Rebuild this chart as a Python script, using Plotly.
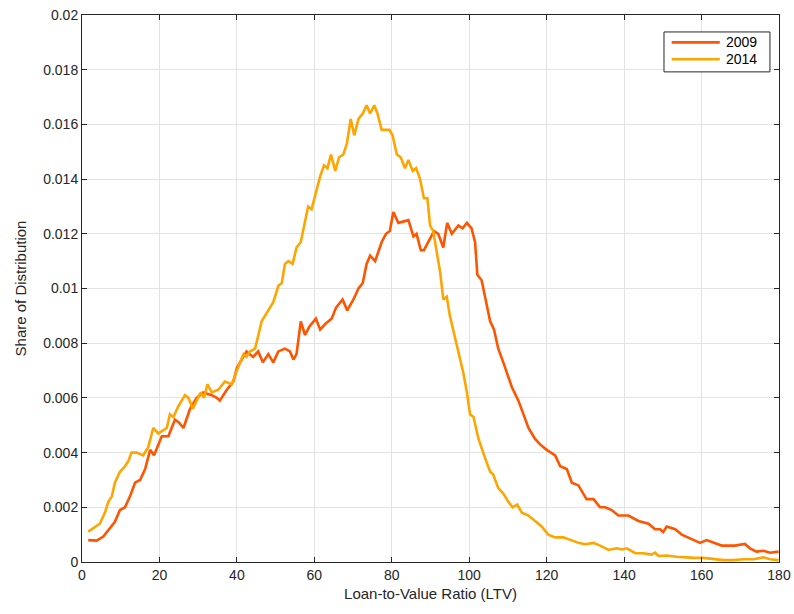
import plotly.graph_objects as go

ltv_2009 = [1.6, 3.8, 5.5, 7.2, 8.5, 9.8, 11.1, 12.4, 13.7, 15.0, 16.3, 17.6, 18.6, 20.6, 22.3, 24.0, 25.0, 26.2,
            27.9, 29.6, 31.3, 33.5, 34.8, 35.6, 37.4, 39.1, 40.0, 42.5, 44.2, 45.5, 46.7, 48.1, 49.4, 50.7, 52.4,
            53.7, 54.6, 55.4, 56.5, 57.6, 58.7, 60.4, 61.5, 62.8, 64.5, 65.6, 67.3, 68.5, 70.1, 71.4, 72.5, 73.5,
            74.4, 75.7, 77.4, 78.5, 79.5, 80.4, 81.7, 84.3, 85.6, 86.4, 87.5, 88.3, 89.9, 90.9, 92.0, 93.3, 94.3,
            95.5, 97.2, 98.3, 99.4, 100.6, 101.5, 102.1, 103.2, 104.3, 105.4, 106.4, 107.5, 108.8, 111.0, 112.7,
            114.0, 115.3, 117.0, 118.3, 120.0, 121.3, 122.2, 123.5, 125.2, 126.5, 128.2, 130.3, 132.1, 133.8,
            135.1, 136.8, 138.5, 141.1, 143.7, 146.3, 148.0, 149.3, 150.1, 151.0, 153.2, 154.9, 156.6, 159.6,
            161.3, 163.5, 165.2, 168.6, 171.2, 172.5, 174.2, 176.0, 177.7, 179.9]
share_2009 = [0.00080, 0.00078, 0.00093, 0.00123, 0.00147, 0.0019, 0.0020, 0.0024, 0.0029, 0.0030, 0.0034, 0.0041,
              0.0039, 0.0046, 0.0046, 0.0052, 0.0051, 0.0049, 0.0056, 0.0060, 0.0062, 0.0061, 0.0060, 0.0059,
              0.0063, 0.0066, 0.0071, 0.0077, 0.0075, 0.0077, 0.0073, 0.0076, 0.0073, 0.0077, 0.0078, 0.0077,
              0.0074, 0.0076, 0.0088, 0.0083, 0.0086, 0.0089, 0.0085, 0.0087, 0.0089, 0.0093, 0.0096, 0.0092,
              0.0096, 0.0100, 0.0102, 0.0109, 0.0112, 0.0110, 0.0117, 0.0120, 0.0121, 0.0128, 0.0124, 0.0125,
              0.0119, 0.0120, 0.0114, 0.0114, 0.0118, 0.0121, 0.0120, 0.0115, 0.0124, 0.0120, 0.0123, 0.0122,
              0.0124, 0.0122, 0.0117, 0.0105, 0.0103, 0.0096, 0.0088, 0.0085, 0.0078, 0.0073, 0.0064, 0.0059,
              0.0054, 0.0049, 0.0045, 0.0043, 0.0041, 0.0040, 0.0039, 0.0035, 0.0034, 0.0029, 0.0028, 0.0023,
              0.0023, 0.0020, 0.0020, 0.0019, 0.0017, 0.0017, 0.0015, 0.0014, 0.0012, 0.0012, 0.0011, 0.0013,
              0.0012, 0.0010, 0.0009, 0.0007, 0.0008, 0.0007, 0.0006, 0.0006, 0.00066, 0.0005, 0.00038, 0.00041,
              0.00034, 0.00038]

ltv_2014 = [1.6, 3.4, 4.6, 5.9, 6.8, 7.7, 8.5, 9.8, 11.1, 12.0, 12.8, 14.1, 15.8, 17.1, 18.4, 19.7, 21.0, 21.9,
            22.7, 23.6, 24.9, 26.6, 27.5, 28.6, 29.6, 30.7, 31.5, 32.4, 33.5, 35.2, 36.9, 38.7, 40.0, 40.8, 41.7,
            42.5, 43.4, 44.7, 46.4, 48.1, 49.4, 50.7, 51.6, 52.4, 53.3, 54.4, 55.4, 56.5, 57.3, 58.4, 59.3, 60.4,
            61.5, 62.5, 63.4, 64.3, 65.4, 66.4, 67.5, 68.4, 69.4, 70.3, 71.4, 72.5, 73.5, 74.4, 75.5, 76.3, 77.4,
            79.4, 80.2, 81.3, 82.3, 83.4, 84.3, 85.4, 86.3, 87.3, 88.3, 89.2, 89.9, 90.7, 91.4, 92.5, 93.3, 94.2,
            95.0, 96.3, 97.6, 98.5, 99.4, 100.2, 101.1, 102.4, 104.1, 105.4, 106.2, 107.5, 108.8, 110.1, 111.2,
            112.4, 113.6, 115.3, 117.0, 118.7, 120.4, 122.2, 124.3, 126.0, 128.2, 129.9, 132.1, 133.8, 136.0,
            138.1, 139.4, 140.7, 142.9, 145.0, 147.1, 148.0, 148.9, 151.0, 153.6, 156.2, 157.9, 160.5, 163.1,
            165.7, 168.2, 170.8, 173.4, 176.0, 177.7, 179.9]
share_2014 = [0.00111, 0.0013, 0.0014, 0.0018, 0.0022, 0.0024, 0.0029, 0.0033, 0.0035, 0.0037, 0.0040, 0.0040,
              0.0039, 0.0042, 0.0049, 0.0047, 0.0048, 0.0049, 0.0054, 0.0053, 0.0057, 0.0061, 0.0060, 0.0056,
              0.0059, 0.0062, 0.0060, 0.0065, 0.0062, 0.0063, 0.0066, 0.0065, 0.0070, 0.0073, 0.0076, 0.0075,
              0.0077, 0.0078, 0.0088, 0.0092, 0.0095, 0.0101, 0.0102, 0.0109, 0.0110, 0.0109, 0.0115, 0.0117,
              0.0123, 0.0130, 0.0129, 0.0135, 0.0141, 0.0145, 0.0144, 0.0149, 0.0143, 0.0148, 0.0149, 0.0153,
              0.0162, 0.0156, 0.0162, 0.0164, 0.0167, 0.0164, 0.0167, 0.0164, 0.0158, 0.0158, 0.0156, 0.0149,
              0.0148, 0.0144, 0.0147, 0.0143, 0.0144, 0.0140, 0.0133, 0.0133, 0.0123, 0.0121, 0.0115, 0.0106,
              0.0096, 0.0097, 0.0090, 0.0082, 0.0075, 0.0069, 0.0062, 0.0054, 0.0053, 0.0045, 0.0038, 0.0033,
              0.0032, 0.0027, 0.0025, 0.0022, 0.0020, 0.0021, 0.0018, 0.0017, 0.0015, 0.0013, 0.0010, 0.0009,
              0.0009, 0.0008, 0.0007, 0.00065, 0.0007, 0.0006, 0.00044, 0.0005, 0.00046, 0.0005, 0.00032,
              0.00032, 0.00027, 0.00034, 0.00022, 0.00024, 0.00019, 0.00017, 0.00015, 0.00015, 0.0001, 0.00007,
              0.00007, 0.0001, 0.0001, 0.00017, 0.0001, 0.00007]

x_ticks = [0, 20, 40, 60, 80, 100, 120, 140, 160, 180]
y_ticks = [0, 0.002, 0.004, 0.006, 0.008, 0.01, 0.012, 0.014, 0.016, 0.018, 0.02]
y_labels = ["0", "0.002", "0.004", "0.006", "0.008", "0.01", "0.012", "0.014", "0.016", "0.018", "0.02"]

series_names = ["2009", "2014"]
series_colors = ["#FF5500", "#FFA500"]

fig = go.Figure()
fig.add_trace(go.Scatter(x=ltv_2009, y=share_2009, mode="lines", name=series_names[0],
                         line=dict(color=series_colors[0], width=2.6), showlegend=False))
fig.add_trace(go.Scatter(x=ltv_2014, y=share_2014, mode="lines", name=series_names[1],
                         line=dict(color=series_colors[1], width=2.6), showlegend=False))

axis_common = dict(showline=True, linecolor="#262626", linewidth=1, mirror="ticks",
                   ticks="inside", ticklen=5, tickcolor="#262626", automargin=False,
                   showgrid=True, gridcolor="#E3E3E3", gridwidth=1, zeroline=False,
                   tickfont=dict(family="Liberation Sans, Arial, sans-serif", size=14, color="#262626"))

# custom legend box (MATLAB style)
shapes = [dict(type="rect", xref="paper", yref="paper", x0=0.835, x1=0.987, y0=0.896, y1=0.969,
               line=dict(color="#262626", width=1), fillcolor="white", layer="above")]
annotations = []
leg_y = [0.950, 0.919]
for name, color, yy in zip(series_names, series_colors, leg_y):
    shapes.append(dict(type="line", xref="paper", yref="paper", x0=0.846, x1=0.915, y0=yy, y1=yy,
                       line=dict(color=color, width=2.6), layer="above"))
    annotations.append(dict(xref="paper", yref="paper", x=0.921, y=yy, text=name, showarrow=False,
                            xanchor="left", yanchor="middle",
                            font=dict(size=14, color="#000000", family="Liberation Sans, Arial, sans-serif")))

fig.update_layout(
    width=794, height=614,
    margin=dict(l=82, r=15, t=15, b=52),
    paper_bgcolor="white", plot_bgcolor="white",
    font=dict(family="Liberation Sans, Arial, sans-serif", color="#262626"),
    xaxis=dict(range=[0, 180], tickvals=x_ticks,
               title=dict(text="Loan-to-Value Ratio (LTV)", font=dict(size=15), standoff=6),
               **axis_common),
    yaxis=dict(range=[0, 0.02], tickvals=y_ticks, ticktext=y_labels,
               title=dict(text="Share of Distribution", font=dict(size=15), standoff=12),
               **axis_common),
    shapes=shapes,
    annotations=annotations,
    showlegend=False,
)

fig.write_html("out.html")
